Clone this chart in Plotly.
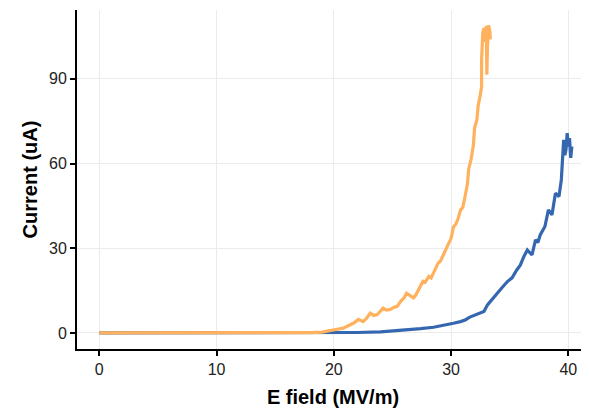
import plotly.graph_objects as go

# Series 1 (orange)
orange_x = [0, 5, 10, 15, 18, 19, 19.5, 20, 20.4, 20.8, 21.2, 21.5, 21.7, 22.1, 22.5, 22.8, 23.1, 23.4,
            23.7, 24.0, 24.2, 24.5, 24.8, 25.1, 25.4, 25.7, 26.0, 26.2, 26.5, 26.8, 27.0, 27.2, 27.4,
            27.6, 27.8, 28.1, 28.3, 28.5, 28.7, 28.9, 29.1, 29.3, 29.4, 29.6, 29.8, 30.0, 30.2, 30.4,
            30.6, 30.8, 31.0, 31.2, 31.4, 31.5, 31.7, 31.9, 32.0, 32.2, 32.3, 32.5, 32.6, 32.6, 32.7,
            32.8, 32.9, 33.0, 33.05, 33.05, 33.1, 33.2, 33.3, 33.35, 33.3]
orange_y = [0, 0, 0, 0, 0.1, 0.3, 0.6, 1.0, 1.4, 1.7, 2.6, 3.0, 3.5, 4.8, 4.0, 5.2, 7.0, 6.2,
            6.5, 7.8, 8.8, 8.1, 8.3, 9.0, 9.4, 11.2, 12.5, 14.0, 13.2, 12.4, 13.5, 15.3, 16.8,
            18.3, 18.0, 20.0, 19.5, 21.2, 22.5, 24.8, 25.5, 27.5, 28.3, 30.5, 31.8, 33.5, 37.5, 38.5,
            40.5, 43.5, 44.5, 48.5, 53.0, 58.0, 61.5, 66.5, 72.5, 75.5, 80.2, 84.5, 87.3, 96.7, 106.2,
            108.0, 103.0, 108.8, 95.0, 91.5, 101.0, 109.0, 107.0, 104.0, 106.0]

# Series 2 (blue)
blue_x = [0, 10, 18, 20, 22, 24, 25.7, 26.5, 27.4, 28.5, 28.8, 29.5, 30.2, 30.8, 31.2, 31.6, 32.0,
          32.5, 32.8, 33.1, 33.5, 33.9, 34.3, 34.8, 35.2, 35.6, 35.9, 36.2, 36.5, 36.7, 36.9, 37.2,
          37.4, 37.6, 37.8, 38.0, 38.3, 38.6, 38.9, 39.2, 39.4, 39.5, 39.6, 39.7, 39.8, 39.9, 40.0,
          40.1, 40.2, 40.3, 40.2]
blue_y = [0, 0, 0, 0.05, 0.15, 0.35, 0.8, 1.2, 1.5, 2.0, 2.2, 2.8, 3.4, 4.0, 4.6, 5.6, 6.3,
          7.0, 7.6, 9.9, 11.8, 13.5, 15.8, 18.2, 19.5, 22.3, 24.0, 27.0, 29.4, 28.5, 27.6, 33.0,
          32.0, 34.7, 36.5, 37.7, 43.6, 41.8, 49.5, 48.3, 54.2, 60.0, 68.4, 63.0, 65.0, 70.8, 66.0,
          69.0, 62.0, 66.0, 64.0]

x_ticks = [0, 10, 20, 30, 40]
y_ticks = [0, 30, 60, 90]

fig = go.Figure()
fig.add_trace(go.Scatter(x=blue_x, y=blue_y, mode="lines",
                         line=dict(color="#3567B0", width=3.2), showlegend=False))
fig.add_trace(go.Scatter(x=orange_x, y=orange_y, mode="lines",
                         line=dict(color="#FFB15E", width=3.2), showlegend=False))

axis_common = dict(
    showline=True, linecolor="black", linewidth=2,
    ticks="outside", ticklen=5, tickwidth=1.5, tickcolor="black",
    showgrid=True, gridcolor="#EBEBEB", gridwidth=1.2,
    zeroline=False, automargin=False,
    tickfont=dict(family="Liberation Sans, Arial", size=16, color="#222222"),
)

fig.update_xaxes(
    **axis_common,
    range=[-1.9, 41.76], tickvals=x_ticks,
    title=dict(text="<b>E field (MV/m)</b>", standoff=13,
               font=dict(family="Liberation Sans, Arial", size=20, color="black")),
)
fig.update_yaxes(
    **axis_common,
    range=[-5.7, 114.4], tickvals=y_ticks,
    title=dict(text="<b>Current (uA)</b>", standoff=6,
               font=dict(family="Liberation Sans, Arial", size=20, color="black")),
)

# The page body adds an 8px offset, so the figure is sized to fit inside the window.
fig.update_layout(
    width=581, height=405,
    margin=dict(l=69, r=0, t=2, b=64),
    plot_bgcolor="white", paper_bgcolor="white",
)

fig.write_html("out.html")
